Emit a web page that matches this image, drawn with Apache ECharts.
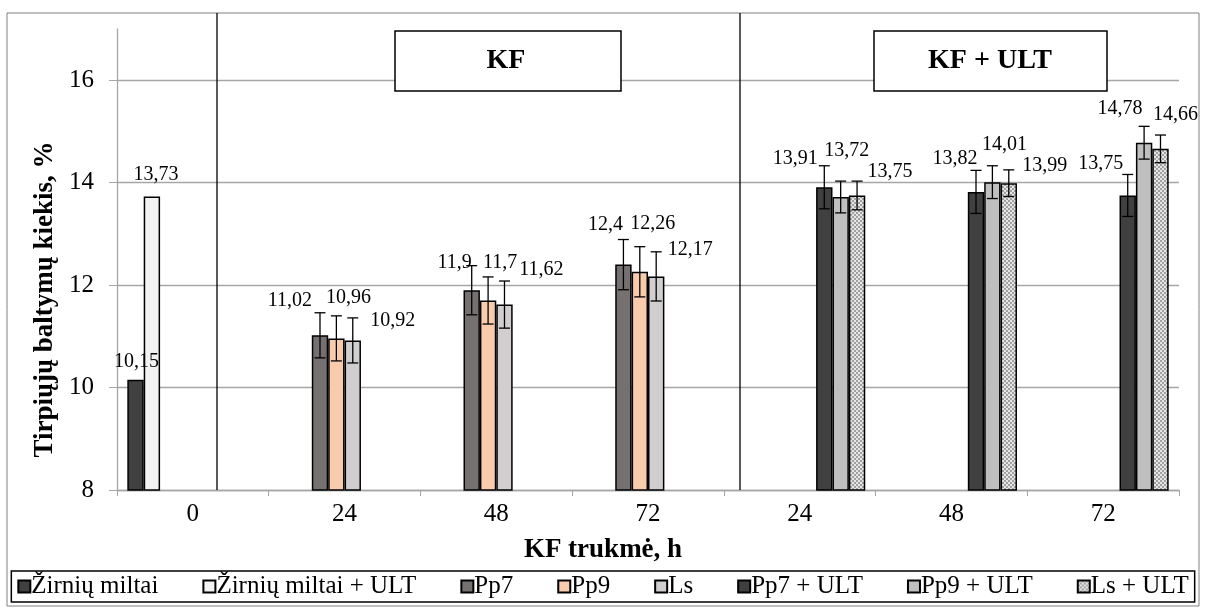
<!DOCTYPE html>
<html><head><meta charset="utf-8">
<script src="https://cdn.jsdelivr.net/npm/echarts@6/dist/echarts.min.js"></script>
<style>html,body{margin:0;padding:0;background:#fff}#c{width:1206px;height:610px}</style>
</head><body><div id="c"></div>
<script>
// ---- data ----
const categories = ['0', '24', '48', '72', '24', '48', '72'];
const yTicks = [8, 10, 12, 14, 16];
const seriesNames = ['Žirnių miltai', 'Žirnių miltai + ULT', 'Pp7', 'Pp9', 'Ls', 'Pp7 + ULT', 'Pp9 + ULT', 'Ls + ULT'];
const zirniuMiltai    = [10.15, null, null, null, null, null, null];
const zirniuMiltaiUlt = [13.73, null, null, null, null, null, null];
const pp7    = [null, 11.02, 11.9, 12.4, null, null, null];
const pp9    = [null, 10.96, 11.7, 12.26, null, null, null];
const ls     = [null, 10.92, 11.62, 12.17, null, null, null];
const pp7Ult = [null, null, null, null, 13.91, 13.82, 13.75];
const pp9Ult = [null, null, null, null, 13.72, 14.01, 14.78];
const lsUlt  = [null, null, null, null, 13.75, 13.99, 14.66];
// error bar half-ranges
const zirniuErr    = [null, null, null, null, null, null, null];
const zirniuUltErr = [null, null, null, null, null, null, null];
const pp7Err    = [null, 0.44, 0.48, 0.49, null, null, null];
const pp9Err    = [null, 0.44, 0.46, 0.49, null, null, null];
const lsErr     = [null, 0.44, 0.46, 0.48, null, null, null];
const pp7UltErr = [null, null, null, null, 0.42, 0.42, 0.41];
const pp9UltErr = [null, null, null, null, 0.31, 0.32, 0.32];
const lsUltErr  = [null, null, null, null, 0.28, 0.26, 0.27];

const values = [zirniuMiltai, zirniuMiltaiUlt, pp7, pp9, ls, pp7Ult, pp9Ult, lsUlt];
const errors = [zirniuErr, zirniuUltErr, pp7Err, pp9Err, lsErr, pp7UltErr, pp9UltErr, lsUltErr];

// ---- style ----
const FONT = "'Liberation Serif', 'Times New Roman', serif";
const GAP = 0.136;
function makePattern() {
  const c = document.createElement('canvas');
  c.width = 4; c.height = 4;
  const g = c.getContext('2d');
  g.fillStyle = '#e6e6e6'; g.fillRect(0, 0, 4, 4);
  g.fillStyle = '#a0a0a0';
  g.fillRect(0, 0, 2, 2); g.fillRect(2, 2, 2, 2);
  return { image: c, repeat: 'repeat' };
}
const colors = ['#404040', '#f2f2f2', '#767171', '#f8cbad', '#d0cece', '#404040', '#bfbfbf', makePattern()];
// label offsets (pixels): horizontal shift and rise of label centre above bar top
const labelDx = [
  [1, 0, 0, 0, 0, 0, 0],
  [4, 0, 0, 0, 0, 0, 0],
  [0, -30, -17, -18, 0, 0, 0],
  [0, 12, 12, 13, 0, 0, 0],
  [0, 40, 37, 34, 0, 0, 0],
  [0, 0, 0, 0, -29, -21, -27],
  [0, 0, 0, 0, 6, 12, -24],
  [0, 0, 0, 0, 33, 36, 15]
];
const labelRise = [
  [18, 0, 0, 0, 0, 0, 0],
  [22, 0, 0, 0, 0, 0, 0],
  [0, 35, 27, 40, 0, 0, 0],
  [0, 41, 38, 48, 0, 0, 0],
  [0, 20, 35, 27, 0, 0, 0],
  [0, 0, 0, 0, 29, 33, 32],
  [0, 0, 0, 0, 46, 37, 34],
  [0, 0, 0, 0, 24, 17, 34]
];

const series = [];
values.forEach((arr, k) => {
  series.push({
    name: seriesNames[k],
    type: 'bar',
    barGap: '0%',
    barCategoryGap: (GAP * 100) + '%',
    itemStyle: { color: colors[k], borderColor: '#000', borderWidth: 1.5 },
    data: arr.map((v, i) => v == null ? null : {
      value: v,
      label: { offset: [labelDx[k][i], -(labelRise[k][i] - 10)] }
    }),
    label: {
      show: true, position: 'top', distance: 0,
      fontFamily: FONT, fontSize: 20, lineHeight: 20, color: '#000',
      formatter: p => String(p.value).replace('.', ',')
    },
    z: 2
  });
});
errors.forEach((arr, k) => {
  const d = [];
  arr.forEach((e, i) => { if (e != null && values[k][i] != null) d.push([i, values[k][i], e]); });
  if (!d.length) return;
  series.push({
    type: 'custom',
    z: 5,
    silent: true,
    encode: { x: 0, y: 1 },
    data: d,
    renderItem: (params, api) => {
      const c = api.value(0), v = api.value(1), e = api.value(2);
      const p = api.coord([c, v]);
      const catW = api.size([1, 0])[0];
      const used = catW * (1 - GAP);
      const bw = used / 8;
      const x = p[0] - used / 2 + (k + 0.5) * bw;
      const yt = api.coord([c, v + e])[1], yb = api.coord([c, v - e])[1];
      const cap = 5.5;
      const st = { stroke: '#000', lineWidth: 1.3 };
      return { type: 'group', children: [
        { type: 'line', shape: { x1: x, y1: yt, x2: x, y2: yb }, style: st },
        { type: 'line', shape: { x1: x - cap, y1: yt, x2: x + cap, y2: yt }, style: st },
        { type: 'line', shape: { x1: x - cap, y1: yb, x2: x + cap, y2: yb }, style: st }
      ]};
    }
  });
});

const chart = echarts.init(document.getElementById('c'), null, { renderer: 'canvas' });
chart.setOption({
  animation: false,
  backgroundColor: '#fff',
  grid: { left: 117, right: 27, top: 29, bottom: 120, containLabel: false },
  xAxis: {
    type: 'category', data: categories,
    name: 'KF trukmė, h', nameLocation: 'middle', nameGap: 47,
    nameTextStyle: { fontFamily: FONT, fontSize: 27, fontWeight: 'bold', color: '#000', padding: [0, 90, 0, 0] },
    axisLine: { lineStyle: { color: '#a6a6a6', width: 1.3 } },
    axisTick: { show: true, length: 6, lineStyle: { color: '#a6a6a6' } },
    axisLabel: { fontFamily: FONT, fontSize: 25, color: '#000', margin: 12 }
  },
  yAxis: {
    type: 'value', min: 8, max: 17, interval: 2,
    name: 'Tirpiųjų baltymų kiekis, %', nameLocation: 'middle', nameGap: 58,
    nameTextStyle: { fontFamily: FONT, fontSize: 27, fontWeight: 'bold', color: '#000', padding: [0, 80, 0, 0] },
    axisLine: { show: true, lineStyle: { color: '#a6a6a6', width: 1.3 } },
    axisTick: { show: true, length: 8, customValues: yTicks, lineStyle: { color: '#a6a6a6' } },
    axisLabel: { fontFamily: FONT, fontSize: 25, color: '#000', margin: 23, customValues: yTicks },
    splitLine: { show: true, lineStyle: { color: '#a6a6a6', width: 1.3 } }
  },
  legend: {
    data: seriesNames, left: 'center', top: 571,
    icon: 'rect', itemWidth: 12, itemHeight: 12, itemGap: 44,
    borderColor: '#000', borderWidth: 1.5, padding: [3, 6],
    textStyle: { fontFamily: FONT, fontSize: 25, color: '#000', padding: [0, 0, 0, -4] }
  },
  graphic: [
    { type: 'rect', z: 100, shape: { x: 7, y: 13, width: 1192, height: 593 }, style: { fill: 'none', stroke: '#808080', lineWidth: 1 } },
    { type: 'line', z: 100, shape: { x1: 217, y1: 13, x2: 217, y2: 490 }, style: { stroke: '#000', lineWidth: 1.3 } },
    { type: 'line', z: 100, shape: { x1: 740, y1: 13, x2: 740, y2: 490 }, style: { stroke: '#000', lineWidth: 1.3 } },
    { type: 'group', z: 100, children: [
      { type: 'rect', z: 100, shape: { x: 395, y: 31, width: 226, height: 60 }, style: { fill: '#fff', stroke: '#000', lineWidth: 1.5 } },
      { type: 'text', z: 101, x: 506, y: 61, style: { text: 'KF', font: "bold 28px 'Liberation Serif'", fill: '#000', align: 'center', verticalAlign: 'middle' } }
    ]},
    { type: 'group', z: 100, children: [
      { type: 'rect', z: 100, shape: { x: 874, y: 31, width: 233, height: 60 }, style: { fill: '#fff', stroke: '#000', lineWidth: 1.5 } },
      { type: 'text', z: 101, x: 990, y: 61, style: { text: 'KF + ULT', font: "bold 28px 'Liberation Serif'", fill: '#000', align: 'center', verticalAlign: 'middle' } }
    ]}
  ],
  series: series
});
</script>
</body></html>
